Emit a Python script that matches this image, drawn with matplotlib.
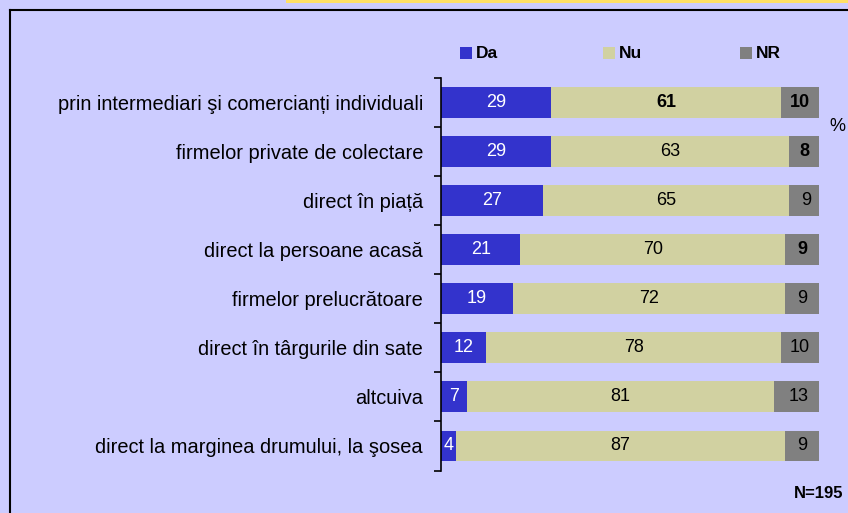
import matplotlib.pyplot as plt
from matplotlib.patches import Rectangle
from matplotlib.lines import Line2D

plt.rcParams['font.family'] = ['Liberation Sans', 'DejaVu Sans']

categories = [
    "prin intermediari şi comercianți individuali",
    "firmelor private de colectare",
    "direct în piață",
    "direct la persoane acasă",
    "firmelor prelucrătoare",
    "direct în târgurile din sate",
    "altcuiva",
    "direct la marginea drumului, la şosea",
]
da = [29, 29, 27, 21, 19, 12, 7, 4]
nu = [61, 63, 65, 70, 72, 78, 81, 87]
nr = [10, 8, 9, 9, 9, 10, 13, 9]
# which value labels are bold in the original
bold_nu = [True, False, False, False, False, False, False, False]
bold_nr = [True, True, False, True, False, False, False, False]

bg = "#CCCCFF"
c_da = "#3333CC"
c_nu = "#D1D1A1"
c_nr = "#808080"

fig = plt.figure(figsize=(8.48, 5.13), dpi=100)
fig.patch.set_facecolor(bg)

# frame lines and yellow title strip cut at the top
fig.add_artist(Rectangle((286 / 848, 1 - 3 / 513), 1, 3 / 513, transform=fig.transFigure,
                         facecolor="#FFE066", edgecolor="none"))
fig.add_artist(Line2D([10 / 848, 1], [1 - 9.5 / 513] * 2, transform=fig.transFigure,
                      color="black", lw=1.5))
fig.add_artist(Line2D([10 / 848, 10 / 848], [1 - 9.5 / 513, 0], transform=fig.transFigure,
                      color="black", lw=1.5))

ax = fig.add_axes([441 / 848, 1 - 470.5 / 513, 378 / 848, 392.5 / 513])
ax.set_facecolor(bg)

y = list(range(len(categories)))
h = 0.63
left_nu = da
left_nr = [a + b for a, b in zip(da, nu)]
ax.barh(y, da, height=h, color=c_da)
ax.barh(y, nu, left=left_nu, height=h, color=c_nu)
ax.barh(y, nr, left=left_nr, height=h, color=c_nr)

for i in y:
    ax.text(da[i] / 2, i, str(da[i]), ha="center", va="center", color="white", fontsize=13)
    ax.text(left_nu[i] + nu[i] / 2, i, str(nu[i]), ha="center", va="center", color="black",
            fontsize=13, fontweight="bold" if bold_nu[i] else "normal")
    ax.text(left_nr[i] + nr[i] / 2, i, str(nr[i]), ha="center", va="center", color="black",
            fontsize=13, fontweight="bold" if bold_nr[i] else "normal")

ax.set_xlim(0, 100)
ax.set_ylim(len(categories) - 0.5, -0.5)
ax.set_yticks(y)
ax.set_yticklabels(categories, fontsize=14.4)
ax.set_yticks([i - 0.5 for i in range(len(categories) + 1)], minor=True)
ax.tick_params(axis="y", which="major", length=0, pad=13)
ax.tick_params(axis="y", which="minor", length=5, width=1.2, direction="out")
ax.set_xticks([])
for s in ["top", "right", "bottom"]:
    ax.spines[s].set_visible(False)
ax.spines["left"].set_linewidth(1.2)

# legend
for xs, lab, col in [(460, "Da", c_da), (603, "Nu", c_nu), (740, "NR", c_nr)]:
    fig.add_artist(Rectangle((xs / 848, 1 - 59 / 513), 12 / 848, 12 / 513,
                             transform=fig.transFigure, facecolor=col, edgecolor="none"))
    fig.text((xs + 16) / 848, 1 - 53 / 513, lab, fontsize=12.5, fontweight="bold", va="center")

fig.text(837 / 848, 1 - 127 / 513, "%", fontsize=13, ha="center", va="center")
fig.text(843 / 848, 1 - 494 / 513, "N=195", fontsize=12, fontweight="bold", ha="right", va="center")

fig.savefig("out.png", dpi=100, facecolor=bg)
